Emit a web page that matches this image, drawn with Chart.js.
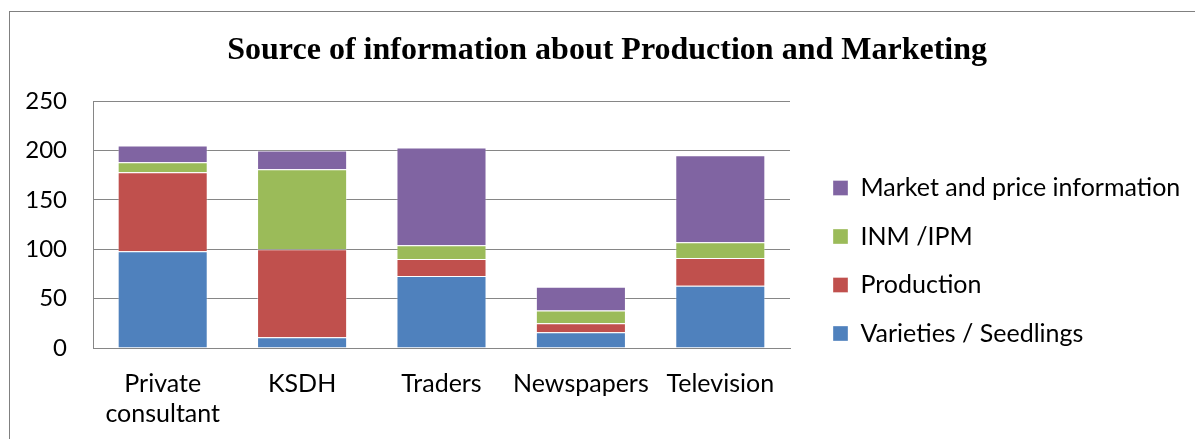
<!DOCTYPE html>
<html>
<head>
<meta charset="utf-8">
<script src="https://cdn.jsdelivr.net/npm/chart.js@4.4.1/dist/chart.umd.min.js"></script>
<style>
  html, body { margin: 0; padding: 0; background: #fff; }
  #wrap { position: relative; width: 1195px; height: 439px; overflow: hidden; }
  #cadre { position: absolute; left: 9px; top: 11px; width: 1200px; height: 440px;
           border-left: 1px solid #808080; border-top: 1px solid #808080; }
  #graph { position: absolute; left: 0; top: 0; }
</style>
</head>
<body>
<div id="wrap">
  <div id="cadre"></div>
  <canvas id="graph" width="1195" height="439"></canvas>
</div>
<script>
// données
const categories = [['Private', 'consultant'], 'KSDH', 'Traders', 'Newspapers', 'Television']
const varieties = [98, 11, 73, 16, 63]
const production = [80, 89, 17, 9, 28]
const inmIpm = [10, 81, 14, 13, 16]
const market = [17, 19, 99, 24, 88]
const yTicks = [0, 50, 100, 150, 200, 250]

const seriesNames = ['Varieties / Seedlings', 'Production', 'INM /IPM', 'Market and price information']
const seriesColors = ['#4F81BD', '#C0504D', '#9BBB59', '#8064A2']

const FONT = 'Lato'
const SIZE = 25

Chart.defaults.color = '#000'

// largeur du plus long texte de la légende pour caler la légende à droite
const mesure = document.createElement('canvas').getContext('2d')
mesure.font = SIZE + 'px ' + FONT
const texteMax = Math.max(...seriesNames.map(t => mesure.measureText(t).width))
const legPad = 23.5
const legLeft = 833 - legPad
const legWidth = legPad + 15 + SIZE / 2 + texteMax + 10 // chart.js ajoute 10 px à une légende verticale
const padRight = Math.max(0, 1195 - legLeft - legWidth)
const padLeft = 24

const datasets = [varieties, production, inmIpm, market].map((vals, i) => ({
  label: seriesNames[i],
  data: vals,
  backgroundColor: seriesColors[i],
  borderColor: 'rgba(255,255,255,0.35)',
  borderWidth: 1,
  barPercentage: 1,
  categoryPercentage: 0.646
}))

const config = {
  type: 'bar',
  data: { labels: categories, datasets: datasets },
  options: {
    responsive: false,
    animation: false,
    devicePixelRatio: 1,
    layout: { padding: { left: padLeft, right: padRight, top: 0, bottom: 0 } },
    plugins: {
      title: {
        display: true,
        text: 'Source of information about Production and Marketing',
        font: { family: 'Liberation Serif', size: 32, weight: 'bold', lineHeight: 1.2 },
        color: '#000',
        padding: { top: 31.8, bottom: 30.8 }
      },
      legend: {
        position: 'right',
        align: 'start',
        reverse: true,
        maxWidth: 600,
        title: { display: true, text: ' ', font: { size: 10, lineHeight: 1 }, padding: { top: 142, bottom: 0 } },
        labels: {
          boxWidth: 15,
          boxHeight: 15,
          padding: legPad,
          font: { family: FONT, size: SIZE },
          color: '#000'
        }
      },
      tooltip: { enabled: false }
    },
    scales: {
      x: {
        stacked: true,
        grid: { display: false, drawTicks: false },
        border: { display: true, color: '#868686', width: 1 },
        ticks: { font: { family: FONT, size: SIZE, lineHeight: 1.2 }, padding: 21, maxRotation: 0, autoSkip: false },
        afterFit: s => { s.height = 91 }
      },
      y: {
        stacked: true,
        min: 0,
        max: 250,
        afterBuildTicks: s => { s.ticks = yTicks.map(v => ({ value: v })) },
        grid: { color: '#868686', lineWidth: 1, drawTicks: false },
        border: { display: true, color: '#868686', width: 1 },
        ticks: { font: { family: FONT, size: 24 }, padding: 26 },
        afterFit: s => { s.width = 93 - padLeft }
      },
      marge: {
        type: 'linear',
        position: 'right',
        display: true,
        grid: { display: false, drawTicks: false },
        border: { display: false },
        ticks: { display: false },
        afterFit: s => { s.width = legLeft - 790 }
      }
    }
  }
}

const chart = new Chart(document.getElementById('graph'), config)
</script>
</body>
</html>
